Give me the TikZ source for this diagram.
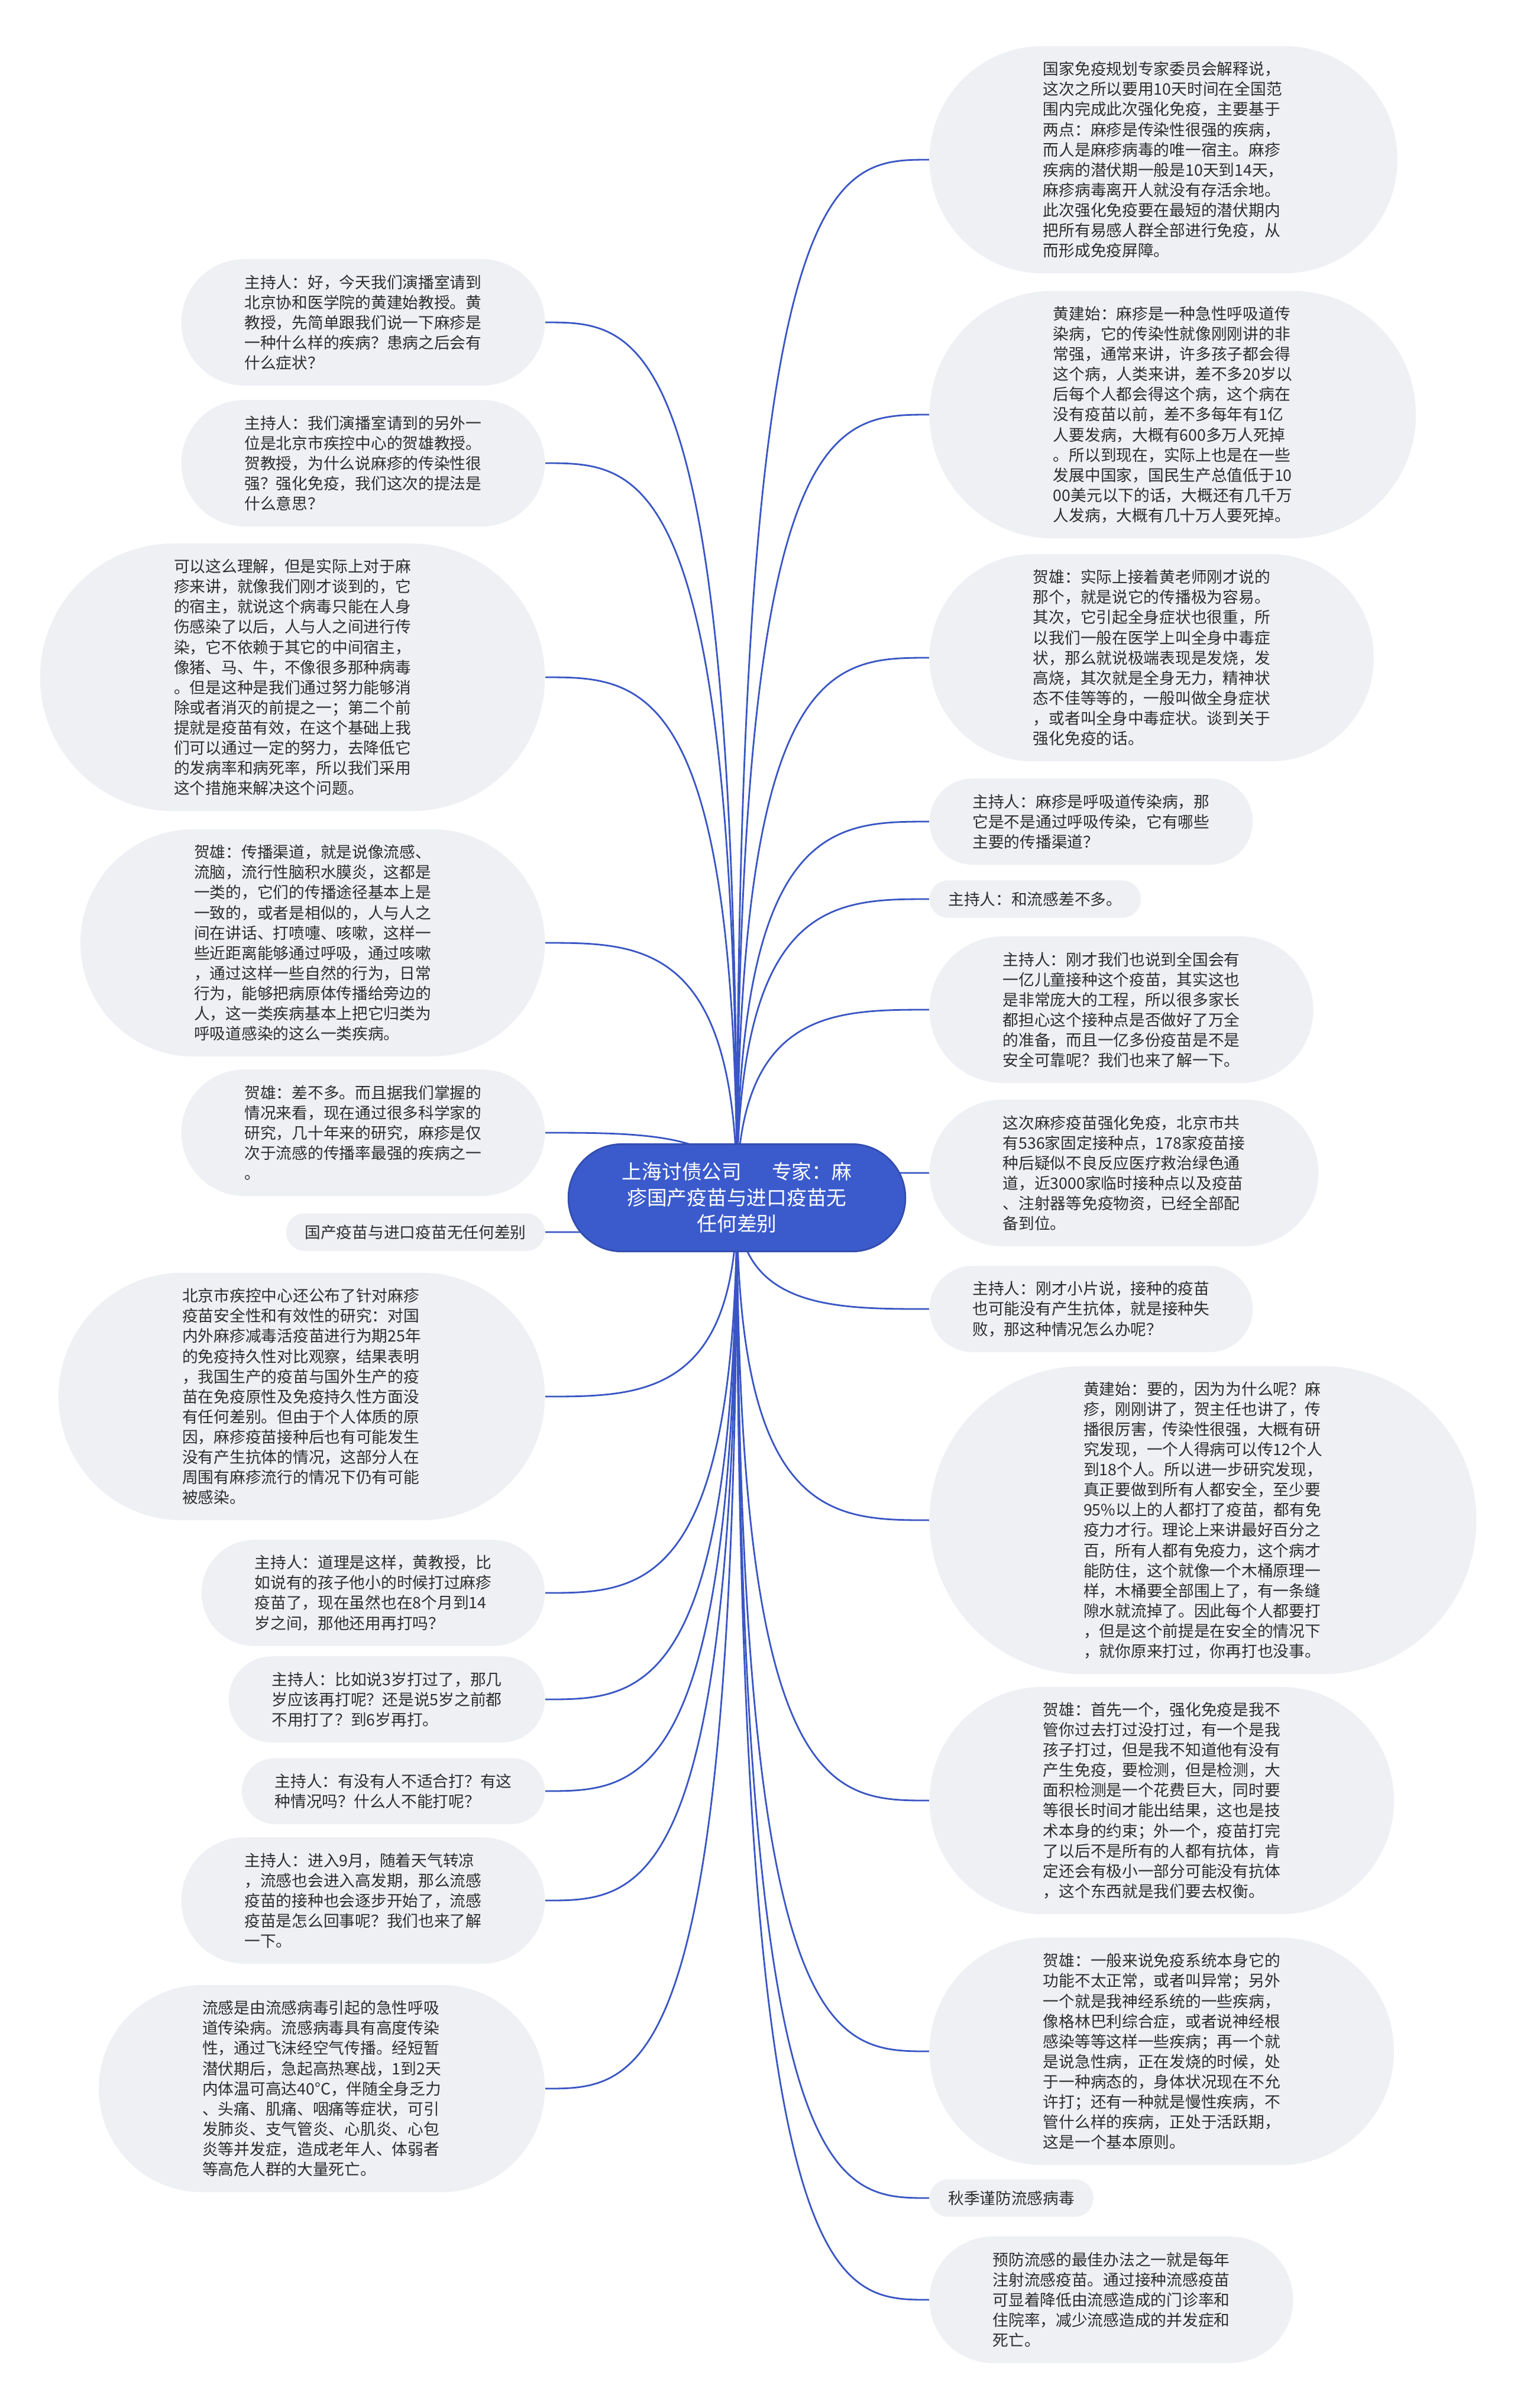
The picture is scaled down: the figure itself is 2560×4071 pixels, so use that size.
\documentclass[tikz,border=0pt]{standalone}
\usepackage{fontspec}
\setmainfont{Noto Sans CJK SC}
\usepackage{tikz}
\usetikzlibrary{calc,backgrounds}
\definecolor{linkblue}{RGB}{58,86,196}
\definecolor{rootblue}{RGB}{59,91,204}
\definecolor{pillgray}{RGB}{238,240,244}
\definecolor{textgray}{RGB}{45,45,45}

\tikzset{
  leaf/.style={rectangle, fill=pillgray, text=textgray, align=left,
    font=\fontsize{7.6}{9.7}\selectfont, inner ysep=0pt,
    minimum height={(#1-1)*9.7pt+22pt}, inner xsep={((#1-1)*9.7pt+22pt)/2},
    rounded corners={((#1-1)*9.7pt+22pt)*0.499}},
  tag/.style={leaf=1, minimum height=18pt, inner xsep=9pt, rounded corners=8.95pt},
  root/.style={rectangle, fill=rootblue, draw=rootblue!85!black, line width=0.8pt,
    text=white, align=center, font=\fontsize{9.6}{12.5}\selectfont,
    minimum height=51.6pt, inner ysep=0pt, inner xsep=25.8pt, rounded corners=25.7pt},
  link/.style={linkblue, line width=0.8pt}
}

\begin{document}
\begin{tikzpicture}[x=0.01cm, y=-0.01cm]
  \useasboundingbox (0,0) rectangle (2560,4071);
  \node[root] (root) at (1246,2025) {上海讨债公司\hspace{1.5em}专家：麻\\疹国产疫苗与进口疫苗无\\任何差别};

  % right side
  \node[leaf=10, anchor=west] (r1) at (1571,270) {国家免疫规划专家委员会解释说，\\这次之所以要用10天时间在全国范\\围内完成此次强化免疫，主要基于\\两点：麻疹是传染性很强的疾病，\\而人是麻疹病毒的唯一宿主。麻疹\\疾病的潜伏期一般是10天到14天，\\麻疹病毒离开人就没有存活余地。\\此次强化免疫要在最短的潜伏期内\\把所有易感人群全部进行免疫，从\\而形成免疫屏障。};
  \node[leaf=11, anchor=west] (r2) at (1571,701) {黄建始：麻疹是一种急性呼吸道传\\染病，它的传染性就像刚刚讲的非\\常强，通常来讲，许多孩子都会得\\这个病，人类来讲，差不多20岁以\\后每个人都会得这个病，这个病在\\没有疫苗以前，差不多每年有1亿\\人要发病，大概有600多万人死掉\\。所以到现在，实际上也是在一些\\发展中国家，国民生产总值低于10\\00美元以下的话，大概还有几千万\\人发病，大概有几十万人要死掉。};
  \node[leaf=9, anchor=west] (r3) at (1571,1112) {贺雄：实际上接着黄老师刚才说的\\那个，就是说它的传播极为容易。\\其次，它引起全身症状也很重，所\\以我们一般在医学上叫全身中毒症\\状，那么就说极端表现是发烧，发\\高烧，其次就是全身无力，精神状\\态不佳等等的，一般叫做全身症状\\，或者叫全身中毒症状。谈到关于\\强化免疫的话。};
  \node[leaf=3, anchor=west] (r4) at (1571,1389) {主持人：麻疹是呼吸道传染病，那\\它是不是通过呼吸传染，它有哪些\\主要的传播渠道？};
  \node[tag, anchor=west] (r5) at (1571,1520) {主持人：和流感差不多。};
  \node[leaf=6, anchor=west] (r6) at (1571,1707) {主持人：刚才我们也说到全国会有\\一亿儿童接种这个疫苗，其实这也\\是非常庞大的工程，所以很多家长\\都担心这个接种点是否做好了万全\\的准备，而且一亿多份疫苗是不是\\安全可靠呢？我们也来了解一下。};
  \node[leaf=6, anchor=west] (r7) at (1571,1983) {这次麻疹疫苗强化免疫，北京市共\\有536家固定接种点，178家疫苗接\\种后疑似不良反应医疗救治绿色通\\道，近3000家临时接种点以及疫苗\\、注射器等免疫物资，已经全部配\\备到位。};
  \node[leaf=3, anchor=west] (r8) at (1571,2213) {主持人：刚才小片说，接种的疫苗\\也可能没有产生抗体，就是接种失\\败，那这种情况怎么办呢？};
  \node[leaf=14, anchor=west] (r9) at (1571,2570) {黄建始：要的，因为为什么呢？麻\\疹，刚刚讲了，贺主任也讲了，传\\播很厉害，传染性很强，大概有研\\究发现，一个人得病可以传12个人\\到18个人。所以进一步研究发现，\\真正要做到所有人都安全，至少要\\95\%以上的人都打了疫苗，都有免\\疫力才行。理论上来讲最好百分之\\百，所有人都有免疫力，这个病才\\能防住，这个就像一个木桶原理一\\样，木桶要全部围上了，有一条缝\\隙水就流掉了。因此每个人都要打\\，但是这个前提是在安全的情况下\\，就你原来打过，你再打也没事。};
  \node[leaf=10, anchor=west] (r10) at (1571,3044) {贺雄：首先一个，强化免疫是我不\\管你过去打过没打过，有一个是我\\孩子打过，但是我不知道他有没有\\产生免疫，要检测，但是检测，大\\面积检测是一个花费巨大，同时要\\等很长时间才能出结果，这也是技\\术本身的约束；外一个，疫苗打完\\了以后不是所有的人都有抗体，肯\\定还会有极小一部分可能没有抗体\\，这个东西就是我们要去权衡。};
  \node[leaf=10, anchor=west] (r11) at (1571,3468) {贺雄：一般来说免疫系统本身它的\\功能不太正常，或者叫异常；另外\\一个就是我神经系统的一些疾病，\\像格林巴利综合症，或者说神经根\\感染等等这样一些疾病；再一个就\\是说急性病，正在发烧的时候，处\\于一种病态的，身体状况现在不允\\许打；还有一种就是慢性疾病，不\\管什么样的疾病，正处于活跃期，\\这是一个基本原则。};
  \node[tag, anchor=west] (r12) at (1571,3716) {秋季谨防流感病毒};
  \node[leaf=5, anchor=west] (r13) at (1571,3888) {预防流感的最佳办法之一就是每年\\注射流感疫苗。通过接种流感疫苗\\可显着降低由流感造成的门诊率和\\住院率，减少流感造成的并发症和\\死亡。};

  % left side
  \node[leaf=5, anchor=east] (l1) at (922,545) {主持人：好，今天我们演播室请到\\北京协和医学院的黄建始教授。黄\\教授，先简单跟我们说一下麻疹是\\一种什么样的疾病？患病之后会有\\什么症状？};
  \node[leaf=5, anchor=east] (l2) at (922,783) {主持人：我们演播室请到的另外一\\位是北京市疾控中心的贺雄教授。\\贺教授，为什么说麻疹的传染性很\\强？强化免疫，我们这次的提法是\\什么意思？};
  \node[leaf=12, anchor=east] (l3) at (922,1145) {可以这么理解，但是实际上对于麻\\疹来讲，就像我们刚才谈到的，它\\的宿主，就说这个病毒只能在人身\\伤感染了以后，人与人之间进行传\\染，它不依赖于其它的中间宿主，\\像猪、马、牛，不像很多那种病毒\\。但是这种是我们通过努力能够消\\除或者消灭的前提之一；第二个前\\提就是疫苗有效，在这个基础上我\\们可以通过一定的努力，去降低它\\的发病率和病死率，所以我们采用\\这个措施来解决这个问题。};
  \node[leaf=10, anchor=east] (l4) at (922,1594) {贺雄：传播渠道，就是说像流感、\\流脑，流行性脑积水膜炎，这都是\\一类的，它们的传播途径基本上是\\一致的，或者是相似的，人与人之\\间在讲话、打喷嚏、咳嗽，这样一\\些近距离能够通过呼吸，通过咳嗽\\，通过这样一些自然的行为，日常\\行为，能够把病原体传播给旁边的\\人，这一类疾病基本上把它归类为\\呼吸道感染的这么一类疾病。};
  \node[leaf=5, anchor=east] (l5) at (922,1915) {贺雄：差不多。而且据我们掌握的\\情况来看，现在通过很多科学家的\\研究，几十年来的研究，麻疹是仅\\次于流感的传播率最强的疾病之一\\。};
  \node[tag, anchor=east] (l6) at (922,2083) {国产疫苗与进口疫苗无任何差别};
  \node[leaf=11, anchor=east] (l7) at (922,2361) {北京市疾控中心还公布了针对麻疹\\疫苗安全性和有效性的研究：对国\\内外麻疹减毒活疫苗进行为期25年\\的免疫持久性对比观察，结果表明\\，我国生产的疫苗与国外生产的疫\\苗在免疫原性及免疫持久性方面没\\有任何差别。但由于个人体质的原\\因，麻疹疫苗接种后也有可能发生\\没有产生抗体的情况，这部分人在\\周围有麻疹流行的情况下仍有可能\\被感染。};
  \node[leaf=4, anchor=east] (l8) at (922,2693) {主持人：道理是这样，黄教授，比\\如说有的孩子他小的时候打过麻疹\\疫苗了，现在虽然也在8个月到14\\岁之间，那他还用再打吗？};
  \node[leaf=3, anchor=east] (l9) at (922,2873) {主持人：比如说3岁打过了，那几\\岁应该再打呢？还是说5岁之前都\\不用打了？到6岁再打。};
  \node[leaf=2, anchor=east] (l10) at (922,3028) {主持人：有没有人不适合打？有这\\种情况吗？什么人不能打呢？};
  \node[leaf=5, anchor=east] (l11) at (922,3213) {主持人：进入9月，随着天气转凉\\，流感也会进入高发期，那么流感\\疫苗的接种也会逐步开始了，流感\\疫苗是怎么回事呢？我们也来了解\\一下。};
  \node[leaf=9, anchor=east] (l12) at (922,3531) {流感是由流感病毒引起的急性呼吸\\道传染病。流感病毒具有高度传染\\性，通过飞沫经空气传播。经短暂\\潜伏期后，急起高热寒战，1到2天\\内体温可高达40°C，伴随全身乏力\\、头痛、肌痛、咽痛等症状，可引\\发肺炎、支气管炎、心肌炎、心包\\炎等并发症，造成老年人、体弱者\\等高危人群的大量死亡。};

  \begin{scope}[on background layer]
    \foreach \i in {1,...,13}
      \draw[link] (root.center) .. controls (root.center |- r\i.west) and ($(root.center |- r\i.west)!0.5!(r\i.west)$) .. (r\i.west);
    \foreach \i in {1,...,12}
      \draw[link] (root.center) .. controls (root.center |- l\i.east) and ($(root.center |- l\i.east)!0.5!(l\i.east)$) .. (l\i.east);
  \end{scope}
\end{tikzpicture}
\end{document}
